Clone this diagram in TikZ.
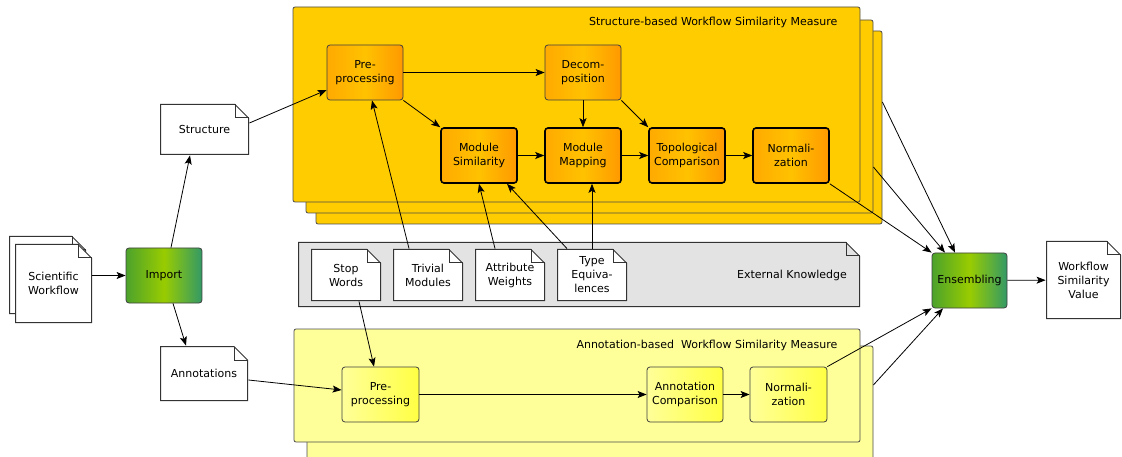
\documentclass[tikz,border=0pt]{standalone}
\usepackage{fontspec}
\setmainfont{DejaVu Sans}
\usepackage{tikz}
\usetikzlibrary{arrows.meta}

\definecolor{sGold}{HTML}{FFCC00}
\definecolor{sOrangeL}{HTML}{FFAA00}
\definecolor{sOrangeM}{HTML}{FFC200}
\definecolor{sOrangeR}{HTML}{FF9900}
\definecolor{aPale}{HTML}{FFFF99}
\definecolor{aLemon}{HTML}{FFFF44}
\definecolor{kGray}{HTML}{E3E3E3}
\definecolor{gLeft}{HTML}{4CA22C}
\definecolor{gMid}{HTML}{99CC00}
\definecolor{gRight}{HTML}{339966}

\newcommand{\docfold}{14pt}
\tikzset{
  doc/.style={align=center, inner sep=1pt, path picture={
    \path[fill=#1, draw=black!80, line width=1pt]
      ([shift={(0.5pt,0.5pt)}]path picture bounding box.south west)
      -- ([shift={(0.5pt,-0.5pt)}]path picture bounding box.north west)
      -- ([shift={(-\docfold,-0.5pt)}]path picture bounding box.north east)
      -- ([shift={(-0.5pt,-\docfold)}]path picture bounding box.north east)
      -- ([shift={(-0.5pt,0.5pt)}]path picture bounding box.south east) -- cycle;
    \draw[black!80, line width=1pt]
      ([shift={(-\docfold,-0.5pt)}]path picture bounding box.north east)
      |- ([shift={(-0.5pt,-\docfold)}]path picture bounding box.north east);
  }},
  doc/.default=white
}

\begin{document}
\begin{tikzpicture}[x=1pt,y=-1pt,>={Stealth[length=9pt,width=7pt,inset=2pt]},
                    line width=0.8pt,node distance=104pt,
                    font=\fontsize{11}{14}\selectfont]
  \tikzstyle{panel} = [draw=black!70, rounded corners=2pt, inner sep=0pt]
  \tikzstyle{proc} = [draw=black!75, rounded corners=3pt, minimum width=76pt,
                      minimum height=55pt, align=center, inner sep=1pt]
  \tikzstyle{sbox} = [proc, left color=sOrangeL, right color=sOrangeR, middle color=sOrangeM]
  \tikzstyle{abox} = [proc, left color=aPale, right color=aLemon]
  \tikzstyle{gbox} = [proc, left color=gLeft, right color=gRight, middle color=gMid]
  \tikzstyle{heavy} = [line width=1.6pt, draw=black]
  \tikzstyle{kdoc} = [doc, minimum width=70pt, minimum height=52pt]
  \useasboundingbox (0,0) rectangle (1122,457);

  % structure-based measure (stacked)
  \node[panel, fill=sGold, minimum width=566pt, minimum height=193pt] (sp3) at (599,127.5) {};
  \node[panel, fill=sGold, minimum width=567pt, minimum height=193pt] (sp2) at (589.5,116.5) {};
  \node[panel, fill=sGold, minimum width=567pt, minimum height=195pt] (sp1) at (576.5,104.5) {};
  \node[anchor=east] (stitle) at (841,22) {Structure-based Workflow Similarity Measure};

  % annotation-based measure (stacked)
  \node[panel, fill=aPale, minimum width=566pt, minimum height=124pt] (ap2) at (590,408) {};
  \node[panel, fill=aPale, minimum width=566pt, minimum height=113pt] (ap1) at (577,385.5) {};
  \node[anchor=east] (atitle) at (841,345) {Annotation-based\ \ Workflow Similarity Measure};

  % external knowledge
  \node[doc=kGray, minimum width=562pt, minimum height=65pt] (ext) at (579,274.5) {};
  \node (ktitle) at (792,275) {External Knowledge};
  \node[kdoc] (stop)    at (346,275) {Stop\\Words};
  \node[kdoc] (trivial) at (428,275) {Trivial\\Modules};
  \node[kdoc] (attr)    at (510,275) {Attribute\\Weights};
  \node[kdoc] (type)    at (592,275) {Type\\Equiva-\\lences};

  % input side
  \node[doc, minimum width=77pt, minimum height=78pt] (swback) at (47.5,275) {};
  \node[doc, minimum width=77pt, minimum height=79pt] (sw) at (53.5,283.5) {Scientific\\Workflow};
  \node[gbox] (import) at (164,275.5) {Import};
  \node[doc, minimum width=89pt, minimum height=51pt] (struct) at (204.5,129.5) {Structure};
  \node[doc, minimum width=88pt, minimum height=55pt] (annot) at (204,373.5) {Annotations};

  % structure steps
  \node[sbox] (pre)    at (365,72.5) {Pre-\\processing};
  \node[sbox] (decomp) at (583,72.5) {Decom-\\position};
  \node[sbox, heavy] (msim) at (479,155.5) {Module\\Similarity};
  \node[sbox, heavy] (mmap) [right of=msim] {Module\\Mapping};
  \node[sbox, heavy] (topo) [right of=mmap] {Topological\\Comparison};
  \node[sbox, heavy] (norm) [right of=topo] {Normali-\\zation};

  % annotation steps
  \node[abox, minimum width=77pt] (apre) at (380.5,394.5) {Pre-\\processing};
  \node[abox] (acomp) at (685,394.5) {Annotation\\Comparison};
  \node[abox, minimum width=77pt] (anorm) at (788.5,394.5) {Normali-\\zation};

  % output side
  \node[gbox, minimum width=75pt] (ens) at (969.5,280.5) {Ensembling};
  \node[doc, minimum width=75pt, minimum height=78pt] (wsv) at (1083.5,280) {Workflow\\Similarity\\Value};

  \path[->]
  (sw.east |- import) edge (import)
  ([xshift=7pt]import.north) edge ([xshift=-14.5pt]struct.south)
  ([xshift=9pt]import.south) edge ([xshift=-18pt]annot.north)
  ([yshift=6.5pt]struct.east) edge ([yshift=-17.5pt]pre.west)
  ([yshift=-6.5pt]annot.east) edge ([yshift=4.5pt]apre.west)
  (pre) edge (decomp)
  (pre.south east) edge (msim.north west)
  (decomp) edge (mmap)
  (decomp.south east) edge (topo.north west)
  (msim) edge (mmap)
  (mmap) edge (topo)
  (topo) edge (norm)
  ([xshift=-19pt]trivial.north) edge ([xshift=7pt]pre.south)
  ([xshift=-15pt]attr.north) edge (msim.south)
  ([xshift=-25pt]type.north) edge ([xshift=28pt]msim.south)
  (type.north) edge (type.north |- mmap.south)
  ([xshift=13pt]stop.south) edge ([xshift=-6.5pt]apre.north)
  (apre) edge (acomp)
  (acomp) edge (anorm)
  (norm.south east) edge (ens.north west)
  ([yshift=-50.5pt]sp2.east) edge ([xshift=-24.5pt]ens.north)
  ([yshift=25.5pt]sp3.east) edge ([xshift=-14.5pt]ens.north)
  (anorm.north east) edge (ens.south west)
  ([yshift=23pt]ap2.east) edge ([xshift=-26.5pt]ens.south)
  (ens) edge (wsv);
\end{tikzpicture}
\end{document}
